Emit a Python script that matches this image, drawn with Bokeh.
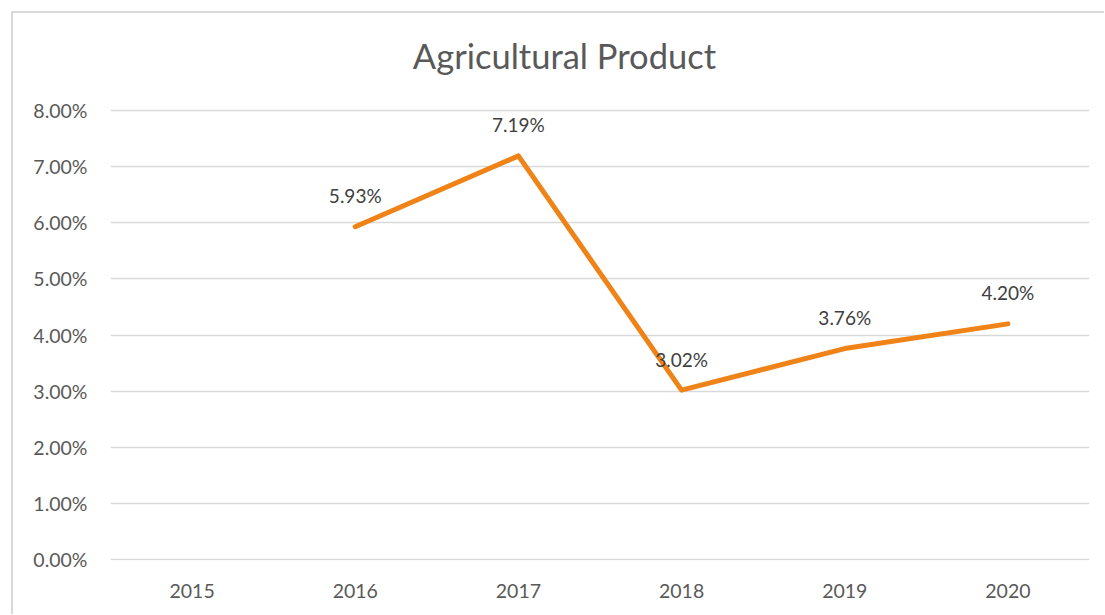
import math
from bokeh.plotting import figure
from bokeh.models import ColumnDataSource, Range1d, PrintfTickFormatter, FixedTicker
from bokeh.core.properties import value
from bokeh.embed import file_html
from bokeh.resources import INLINE

years = ["2015", "2016", "2017", "2018", "2019", "2020"]
growth = [float("nan"), 5.93, 7.19, 3.02, 3.76, 4.20]
labels = ["", "5.93%", "7.19%", "3.02%", "3.76%", "4.20%"]
y_ticks = [0, 1, 2, 3, 4, 5, 6, 7, 8]
title_text = "Agricultural Product"

FONT = "Lato"

line_src = ColumnDataSource(dict(x=years[1:], y=growth[1:]))
lab_src = ColumnDataSource(dict(x=years[1:], y=growth[1:], t=labels[1:]))

# frame spans nearly the full height; 8.00% stays at the same place, the
# extra room above holds the chart title
p = figure(width=1104, height=614, x_range=years, y_range=Range1d(-0.012, 9.8667),
           output_backend="svg", toolbar_location=None,
           min_border_left=110, min_border_right=15, min_border_top=5, min_border_bottom=54)

p.outline_line_color = None
p.background_fill_color = None
p.border_fill_color = None
p.styles = {
    "background": "linear-gradient(#D9D9D9,#D9D9D9) 11px 11px / 2px 2000px no-repeat, "
                  "linear-gradient(#D9D9D9,#D9D9D9) 11px 11px / 2000px 2px no-repeat, white"
}

p.text(x=[2.782], y=[8.978], text=[title_text], text_align="center",
       text_baseline="middle", text_font=value(FONT), text_font_size="34.5px",
       text_color="#595959")

p.line("x", "y", source=line_src, line_color="#EF8317", line_width=5,
       line_cap="round", line_join="round")
p.text("x", "y", text="t", source=lab_src, y_offset=-31, text_align="center",
       text_baseline="middle", text_font=value(FONT), text_font_size="19px",
       text_color="#404040")

p.xgrid.grid_line_color = None
p.ygrid.grid_line_color = "#D9D9D9"
p.ygrid.grid_line_width = 1.5

p.yaxis.ticker = FixedTicker(ticks=y_ticks)
p.yaxis.formatter = PrintfTickFormatter(format="%.2f%%")
for ax in (p.xaxis, p.yaxis):
    ax.axis_line_color = None
    ax.major_tick_line_color = None
    ax.minor_tick_line_color = None
    ax.major_label_text_font = FONT
    ax.major_label_text_font_size = "19.5px"
    ax.major_label_text_color = "#595959"
p.yaxis.major_label_standoff = 17
p.xaxis.major_label_standoff = 17
p.x_range.range_padding = 0

open("out.html", "w").write(file_html(p, INLINE))
